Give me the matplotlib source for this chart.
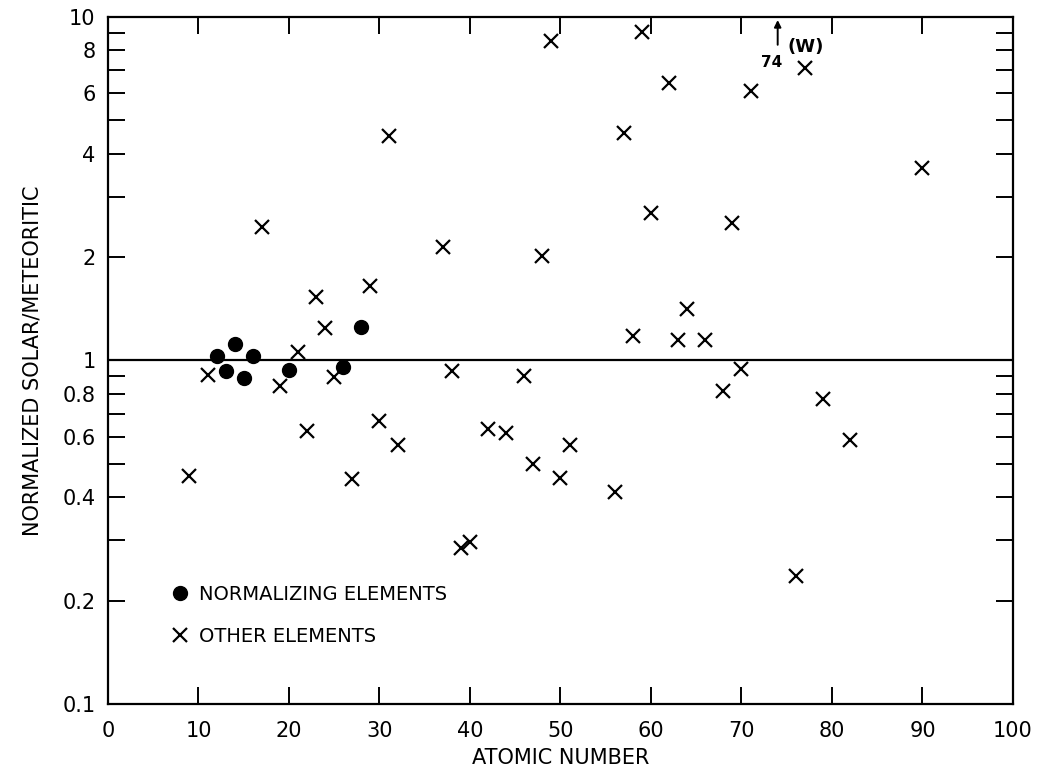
import matplotlib
matplotlib.use("Agg")
import matplotlib.pyplot as plt
from matplotlib.ticker import FixedLocator, FixedFormatter, NullFormatter

# --- dati ---
# elementi di normalizzazione (pallini)
norm_z = [12, 13, 14, 15, 16, 20, 26, 28]
norm_ratio = [1.03, 0.934, 1.12, 0.889, 1.03, 0.936, 0.959, 1.254]

# altri elementi (croci)
other_z = [9, 11, 17, 19, 21, 22, 23, 24, 25, 27, 29, 30, 31, 32, 37, 38, 39, 40,
           42, 44, 46, 47, 48, 49, 50, 51, 56, 57, 58, 59, 60, 62, 63, 64, 66,
           68, 69, 70, 71, 76, 77, 79, 82, 90]
other_ratio = [0.461, 0.909, 2.44, 0.845, 1.06, 0.622, 1.53, 1.246, 0.894, 0.452,
               1.65, 0.667, 4.51, 0.569, 2.14, 0.934, 0.284, 0.297,
               0.631, 0.616, 0.903, 0.50, 2.01, 8.53, 0.454, 0.568, 0.414, 4.61,
               1.18, 9.04, 2.69, 6.44, 1.147, 1.415, 1.147,
               0.813, 2.51, 0.943, 6.09, 0.236, 7.09, 0.773, 0.587, 3.63]

# tungsteno fuori scala (freccia)
w_z = 74

y_major = [0.1, 0.2, 0.4, 0.6, 0.8, 1, 2, 4, 6, 8, 10]
y_major_labels = ["0.1", "0.2", "0.4", "0.6", "0.8", "1", "2", "4", "6", "8", "10"]
y_minor = [0.3, 0.5, 0.7, 0.9, 3, 5, 7, 9]
x_ticks = list(range(0, 101, 10))

plt.rcParams["font.family"] = "DejaVu Sans"

fig = plt.figure(figsize=(10.44, 7.76), dpi=100)
ax = fig.add_axes([0.1034, 0.0928, 0.8669, 0.8853])

ax.set_yscale("log")
ax.set_xlim(0, 100)
ax.set_ylim(0.1, 10)

# linea di riferimento a 1
ax.axhline(1, color="black", linewidth=1.6, zorder=1)

ax.plot(norm_z, norm_ratio, "o", color="black", markersize=10,
        label="NORMALIZING ELEMENTS", zorder=3)
ax.plot(other_z, other_ratio, "x", color="black", markersize=10,
        markeredgewidth=1.6, label="OTHER ELEMENTS", zorder=3)

# freccia per W (74)
ax.annotate("", xy=(w_z, 9.8), xytext=(w_z, 8.3),
            arrowprops=dict(arrowstyle="-|>", color="black", lw=1.4,
                            mutation_scale=10, shrinkA=0, shrinkB=0))
ax.text(73.3, 7.35, str(w_z), fontsize=11, fontweight="bold",
        ha="center", va="center")
ax.text(77.1, 8.18, "(W)", fontsize=13, fontweight="bold",
        ha="center", va="center")

# assi e tacche
ax.xaxis.set_major_locator(FixedLocator(x_ticks))
ax.yaxis.set_major_locator(FixedLocator(y_major))
ax.yaxis.set_major_formatter(FixedFormatter(y_major_labels))
ax.yaxis.set_minor_locator(FixedLocator(y_minor))
ax.yaxis.set_minor_formatter(NullFormatter())
ax.tick_params(which="both", direction="in", length=12, width=1.4,
               top=True, right=True, labelsize=15)
ax.tick_params(axis="x", pad=12)
ax.tick_params(axis="y", pad=9)
for s in ax.spines.values():
    s.set_linewidth(1.6)

ax.set_xlabel("ATOMIC NUMBER", fontsize=15, labelpad=5)
ax.set_ylabel("NORMALIZED SOLAR/METEORITIC", fontsize=15, labelpad=14)

ax.legend(loc="center left", bbox_to_anchor=(0.06, 0.129), frameon=False,
          fontsize=14, handlelength=0.8, handletextpad=0.6, labelspacing=1.2,
          borderpad=0)

fig.savefig("out.png", dpi=100)
